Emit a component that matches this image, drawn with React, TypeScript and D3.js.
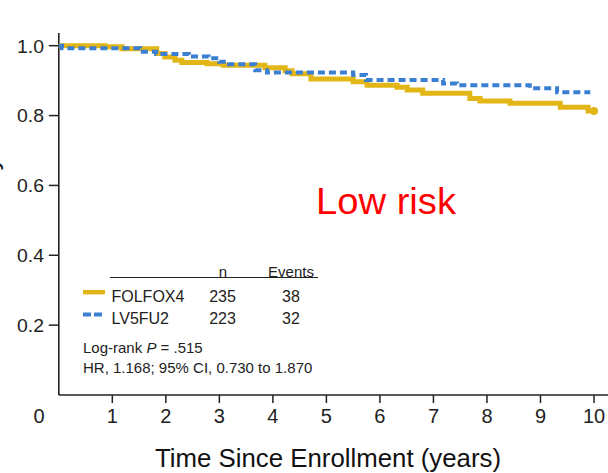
import React from 'react';
import * as d3 from 'd3';

// Kaplan-Meier steps
const folfoxTimes = [0, 0.86, 1.18, 1.83, 1.98, 2.17, 2.3, 2.77, 3.07, 3.85, 4.23, 4.36, 4.71, 5.5, 5.76, 6.32, 6.51, 6.8, 7.68, 7.87, 8.43, 9.37, 9.89, 10.0];
const folfoxSurv = [1.0, 0.997, 0.991, 0.978, 0.968, 0.958, 0.952, 0.948, 0.944, 0.937, 0.928, 0.92, 0.905, 0.897, 0.887, 0.881, 0.873, 0.864, 0.849, 0.842, 0.835, 0.824, 0.813, 0.813];

const lv5fu2Times = [0, 0.06, 1.52, 1.82, 2.43, 2.8, 3.0, 3.18, 3.67, 3.89, 5.5, 5.74, 7.18, 7.44, 8.8, 9.31, 9.93];
const lv5fu2Surv = [1.0, 0.993, 0.983, 0.976, 0.969, 0.964, 0.954, 0.947, 0.93, 0.923, 0.916, 0.902, 0.892, 0.887, 0.878, 0.867, 0.867];

const xTicks = [1, 2, 3, 4, 5, 6, 7, 8, 9, 10];
const yTicks = [0.2, 0.4, 0.6, 0.8, 1.0];

const arms = ['FOLFOX4', 'LV5FU2'];
const armN = [235, 223];
const armEvents = [38, 32];

const GOLD = '#e3b617';
const BLUE = '#3b7fd3';
const FONT = '"Liberation Sans", Arial, sans-serif';

const App = () => {
  const x = d3.scaleLinear().domain([0, 10]).range([58.8, 594]);
  const y = d3.scaleLinear().domain([0, 1]).range([395, 45.7]);

  const line = d3.line<[number, number]>()
    .x(d => x(d[0]))
    .y(d => y(d[1]))
    .curve(d3.curveStepAfter);

  const folfox = folfoxTimes.map((t, i) => [t, folfoxSurv[i]] as [number, number]);
  const lv5 = lv5fu2Times.map((t, i) => [t, lv5fu2Surv[i]] as [number, number]);
  const last = folfox[folfox.length - 1];

  return (
    <svg width={608} height={473} style={{ position: 'absolute', left: 0, top: 0, background: '#fff' }} fontFamily={FONT}>
      {/* axes */}
      <line x1={x(0)} x2={x(0)} y1={33} y2={y(0)} stroke="#222" strokeWidth={1.6} />
      <line x1={x(0)} x2={608} y1={y(0)} y2={y(0)} stroke="#222" strokeWidth={1.6} />
      {yTicks.map(t => (
        <g key={t}>
          <line x1={x(0) - 10} x2={x(0)} y1={y(t)} y2={y(t)} stroke="#222" strokeWidth={1.5} />
          <text x={44} y={y(t)} dy="0.36em" textAnchor="end" fontSize={19} fill="#222" textLength={27} lengthAdjust="spacingAndGlyphs">{t.toFixed(1)}</text>
        </g>
      ))}
      {xTicks.map(t => (
        <g key={t}>
          <line x1={x(t)} x2={x(t)} y1={y(0)} y2={y(0) + 8} stroke="#222" strokeWidth={1.5} />
          <text x={x(t)} y={423} textAnchor="middle" fontSize={20} fill="#222">{t}</text>
        </g>
      ))}
      <text x={39} y={423} textAnchor="middle" fontSize={20} fill="#222">0</text>
      <text x={328} y={467} textAnchor="middle" fontSize={26} fill="#111" textLength={346} lengthAdjust="spacingAndGlyphs">Time Since Enrollment (years)</text>
      {/* y title sits almost entirely off the left edge, as in the source */}
      <text transform="translate(-2,218) rotate(-90)" textAnchor="middle" fontSize={26} fill="#111">Probability</text>

      {/* curves */}
      <path d={line(folfox) ?? ''} fill="none" stroke={GOLD} strokeWidth={5} />
      <circle cx={x(last[0])} cy={y(last[1])} r={4} fill={GOLD} />
      <path d={line(lv5) ?? ''} fill="none" stroke={BLUE} strokeWidth={4} strokeDasharray="7 4" />

      <text x={386} y={214} textAnchor="middle" fontSize={36} fill="#ff0000" textLength={140} lengthAdjust="spacingAndGlyphs">Low risk</text>

      {/* legend */}
      <line x1={110} x2={318} y1={277.5} y2={277.5} stroke="#222" strokeWidth={1.2} />
      <text x={223} y={277} textAnchor="middle" fontSize={15} fill="#222">n</text>
      <text x={291} y={277} textAnchor="middle" fontSize={15} fill="#222">Events</text>
      {arms.map((a, i) => {
        const by = i === 0 ? 301.7 : 324;
        const sy = by - 9.5;
        return (
          <g key={a}>
            <line x1={83} x2={105} y1={sy} y2={sy} stroke={i === 0 ? GOLD : BLUE} strokeWidth={i === 0 ? 4.5 : 4} strokeDasharray={i === 0 ? undefined : '8 3'} />
            <text x={111.5} y={by} fontSize={16} fill="#222">{a}</text>
            <text x={222.5} y={by} textAnchor="middle" fontSize={16} fill="#222">{armN[i]}</text>
            <text x={291} y={by} textAnchor="middle" fontSize={16} fill="#222">{armEvents[i]}</text>
          </g>
        );
      })}
      <text x={83} y={353} fontSize={15} fill="#222">Log-rank <tspan fontStyle="italic">P</tspan> = .515</text>
      <text x={83} y={373} fontSize={15} fill="#222">HR, 1.168; 95% CI, 0.730 to 1.870</text>
    </svg>
  );
};

export default App;
